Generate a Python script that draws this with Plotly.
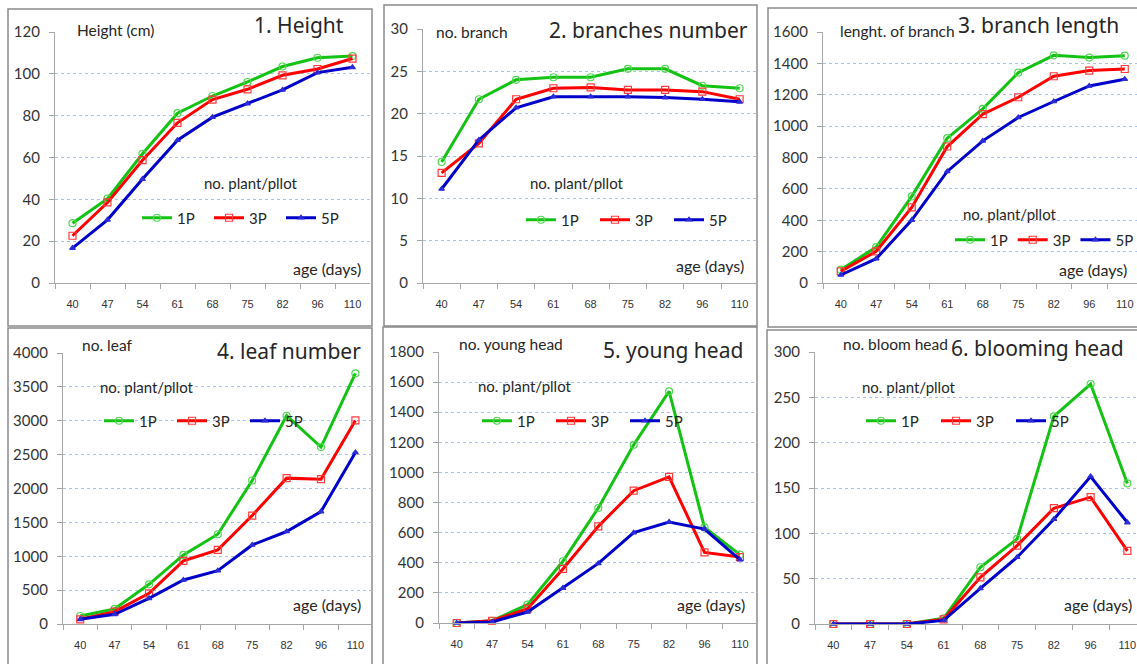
import plotly.graph_objects as go

# Plant age at each sampling date (days)
ages = ["40", "47", "54", "61", "68", "75", "82", "96", "110"]
series_names = ["1P", "3P", "5P"]

# 1. Height (cm)
height_1p = [28.6, 40.3, 61.8, 81.2, 89.4, 96.1, 103.5, 107.7, 108.5]
height_3p = [22.6, 38.5, 58.7, 76.6, 87.7, 92.6, 99.3, 102.3, 107.3]
height_5p = [16.7, 30.2, 49.7, 68.3, 79.3, 85.8, 92.3, 100.6, 103.1]

# 2. branches number
branch_1p = [14.3, 21.7, 24.0, 24.3, 24.3, 25.3, 25.3, 23.3, 23.0]
branch_3p = [13.0, 16.5, 21.7, 23.0, 23.1, 22.8, 22.8, 22.6, 21.7]
branch_5p = [11.1, 16.9, 20.7, 22.0, 22.0, 22.0, 21.9, 21.7, 21.4]

# 3. branch length
length_1p = [85, 229, 552, 923, 1110, 1341, 1451, 1437, 1449]
length_3p = [74, 202, 482, 870, 1076, 1184, 1318, 1354, 1364]
length_5p = [51, 155, 401, 711, 906, 1055, 1157, 1256, 1299]

# 4. leaf number
leaf_1p = [118, 222, 586, 1020, 1325, 2118, 3074, 2611, 3700]
leaf_3p = [69, 182, 453, 931, 1094, 1601, 2153, 2138, 3005]
leaf_5p = [69, 143, 379, 650, 788, 1167, 1365, 1660, 2532]

# 5. young head
young_1p = [0, 15, 122, 410, 764, 1184, 1539, 635, 454]
young_3p = [0, 15, 95, 359, 642, 879, 970, 469, 438]
young_5p = [0, 7, 73, 232, 396, 600, 671, 624, 421]

# 6. blooming head
bloom_1p = [0, 0, 0, 6.3, 62.6, 93.9, 229, 264.7, 155]
bloom_3p = [0, 0, 0, 5.2, 51.5, 86.5, 127.7, 139.9, 80.6]
bloom_5p = [0, 0, 0, 4.0, 39.4, 73.6, 115.6, 162.7, 111.9]

panel_titles = ["1. Height", "2. branches number", "3. branch length",
                "4. leaf number", "5. young head", "6. blooming head"]
value_labels = ["Height (cm)", "no. branch", "lenght. of branch",
                "no. leaf", "no. young head", "no. bloom head"]
y_ticks = [
    [0, 20, 40, 60, 80, 100, 120],
    [0, 5, 10, 15, 20, 25, 30],
    [0, 200, 400, 600, 800, 1000, 1200, 1400, 1600],
    [0, 500, 1000, 1500, 2000, 2500, 3000, 3500, 4000],
    [0, 200, 400, 600, 800, 1000, 1200, 1400, 1600, 1800],
    [0, 50, 100, 150, 200, 250, 300],
]
panel_data = [
    (height_1p, height_3p, height_5p),
    (branch_1p, branch_3p, branch_5p),
    (length_1p, length_3p, length_5p),
    (leaf_1p, leaf_3p, leaf_5p),
    (young_1p, young_3p, young_5p),
    (bloom_1p, bloom_3p, bloom_5p),
]

W, H = 1137, 664

# Layout of each panel in pixels; leg = (left, middle y, entry step or None for auto)
panels = [
    dict(box=(8, 9, 372, 326), plot=(55, 32, 370, 283), slot=35.0,
         vlab=(75, 30), title=(346, 25), leg_title=(202, 183), leg=(137, 218, 72), age=(363, 268)),
    dict(box=(384, 5, 757, 326), plot=(423, 29, 758, 283), slot=37.25,
         vlab=(434, 32), title=(750, 30), leg_title=(528, 183), leg=(521, 220, 74), age=(746, 265)),
    dict(box=(768, 8, 1140, 327), plot=(823, 32, 1143, 283), slot=35.5,
         vlab=(838, 31), title=(1121, 25), leg_title=(961, 214), leg=(950, 240, None), age=(1129, 270)),
    dict(box=(8, 328, 372, 668), plot=(63, 353, 372, 624), slot=34.4,
         vlab=(80, 345), title=(363, 351), leg_title=(98, 387), leg=(99, 421, 73), age=(363, 604)),
    dict(box=(383, 327, 757, 668), plot=(439, 352, 758, 623), slot=35.4,
         vlab=(457, 344), title=(745, 350), leg_title=(476, 386), leg=(477, 421, 74), age=(747, 604)),
    dict(box=(767, 330, 1140, 668), plot=(815, 352, 1146, 624), slot=36.75,
         vlab=(841, 344), title=(1126, 348), leg_title=(860, 387), leg=(861, 421, 75), age=(1134, 604)),
]

colors = ["#14c214", "#ff0000", "#0000c8"]
marker_colors = ["#4fd84f", "#ff3b3b", "#2b2bd8"]
symbols = ["circle-open", "square-open", "triangle-up"]
marker_sizes = [7, 7, 5]

TEXT = "#262626"
GRID = "#a9c3e6"
AXIS = "#a6a6a6"

fig = go.Figure()
layout = dict(
    width=W, height=H, margin=dict(l=0, r=0, t=0, b=0, autoexpand=False),
    paper_bgcolor="white", plot_bgcolor="rgba(0,0,0,0)",
    font=dict(family="Lato, sans-serif", color=TEXT),
    showlegend=True,
)
annotations = []
shapes = []


def px(x):
    return x / W


def py(y):
    return 1 - y / H


for i, p in enumerate(panels):
    n = i + 1
    xa = "x" if n == 1 else f"x{n}"
    ya = "y" if n == 1 else f"y{n}"
    leg_name = "legend" if n == 1 else f"legend{n}"

    for k in range(3):
        fig.add_trace(go.Scatter(
            x=ages, y=panel_data[i][k], name=series_names[k],
            xaxis=xa, yaxis=ya, legend=leg_name,
            mode="lines+markers",
            line=dict(color=colors[k], width=3),
            marker=dict(symbol=symbols[k], size=marker_sizes[k], color=marker_colors[k],
                        line=dict(color=marker_colors[k], width=1.2)),
            cliponaxis=False,
        ))

    x0, y0, x1, y1 = p["plot"]
    right = min(x1, W)
    n_slots = (right - x0) / p["slot"]
    ticks = y_ticks[i]
    layout["xaxis" if n == 1 else f"xaxis{n}"] = dict(
        domain=[px(x0), px(right)], anchor=ya,
        type="category", range=[-0.5, -0.5 + n_slots],
        showline=True, linecolor=AXIS, linewidth=1.3,
        ticks="outside", tickson="boundaries", ticklen=5, tickcolor=AXIS, tickwidth=1,
        showgrid=False, zeroline=False, fixedrange=True,
        tickfont=dict(family="Liberation Sans, Arial, sans-serif", size=11, color="#333333"),
        ticklabelstandoff=11,
    )
    layout["yaxis" if n == 1 else f"yaxis{n}"] = dict(
        domain=[py(y1), py(y0)], anchor=xa,
        range=[ticks[0], ticks[-1]], tickvals=ticks,
        showline=True, linecolor=AXIS, linewidth=1.3,
        ticks="outside", ticklen=5, tickcolor=AXIS, tickwidth=1,
        showgrid=True, gridcolor=GRID, griddash="dot", gridwidth=1,
        zeroline=False, fixedrange=True,
        tickfont=dict(family="Lato, sans-serif", size=15, color="#333333"),
        ticklabelstandoff=6,
    )

    lx, ly, step = p["leg"]
    legend_cfg = dict(
        x=px(lx), y=py(ly), xanchor="left", yanchor="middle",
        orientation="h",
        bgcolor="rgba(0,0,0,0)", borderwidth=0,
        font=dict(family="Lato, sans-serif", size=15, color=TEXT),
        itemclick=False, itemdoubleclick=False,
        tracegroupgap=0,
    )
    if step is not None:
        legend_cfg.update(entrywidth=step - 45, entrywidthmode="pixels")
    layout[leg_name] = legend_cfg

    bx0, by0, bx1, by1 = p["box"]
    shapes.append(dict(type="rect", xref="paper", yref="paper",
                       x0=px(bx0), x1=px(bx1), y0=py(by1), y1=py(by0),
                       line=dict(color="#8a8a8a", width=1.5), layer="below"))

    vx, vy = p["vlab"]
    annotations.append(dict(text=value_labels[i], x=px(vx), y=py(vy), xref="paper", yref="paper",
                            xanchor="left", yanchor="middle", showarrow=False,
                            font=dict(size=15.5, color=TEXT)))
    tx, ty = p["title"]
    annotations.append(dict(text=panel_titles[i], x=px(tx), y=py(ty), xref="paper", yref="paper",
                            xanchor="right", yanchor="middle", showarrow=False,
                            font=dict(family="Noto Sans, sans-serif", size=21, color=TEXT)))
    gx, gy = p["leg_title"]
    annotations.append(dict(text="no. plant/pllot", x=px(gx), y=py(gy), xref="paper", yref="paper",
                            xanchor="left", yanchor="middle", showarrow=False,
                            font=dict(size=15, color=TEXT)))
    ax_, ay_ = p["age"]
    annotations.append(dict(text="age (days)", x=px(ax_), y=py(ay_), xref="paper", yref="paper",
                            xanchor="right", yanchor="middle", showarrow=False,
                            font=dict(size=16, color=TEXT)))

layout["annotations"] = annotations
layout["shapes"] = shapes
fig.update_layout(**layout)
fig.write_html("out.html")
